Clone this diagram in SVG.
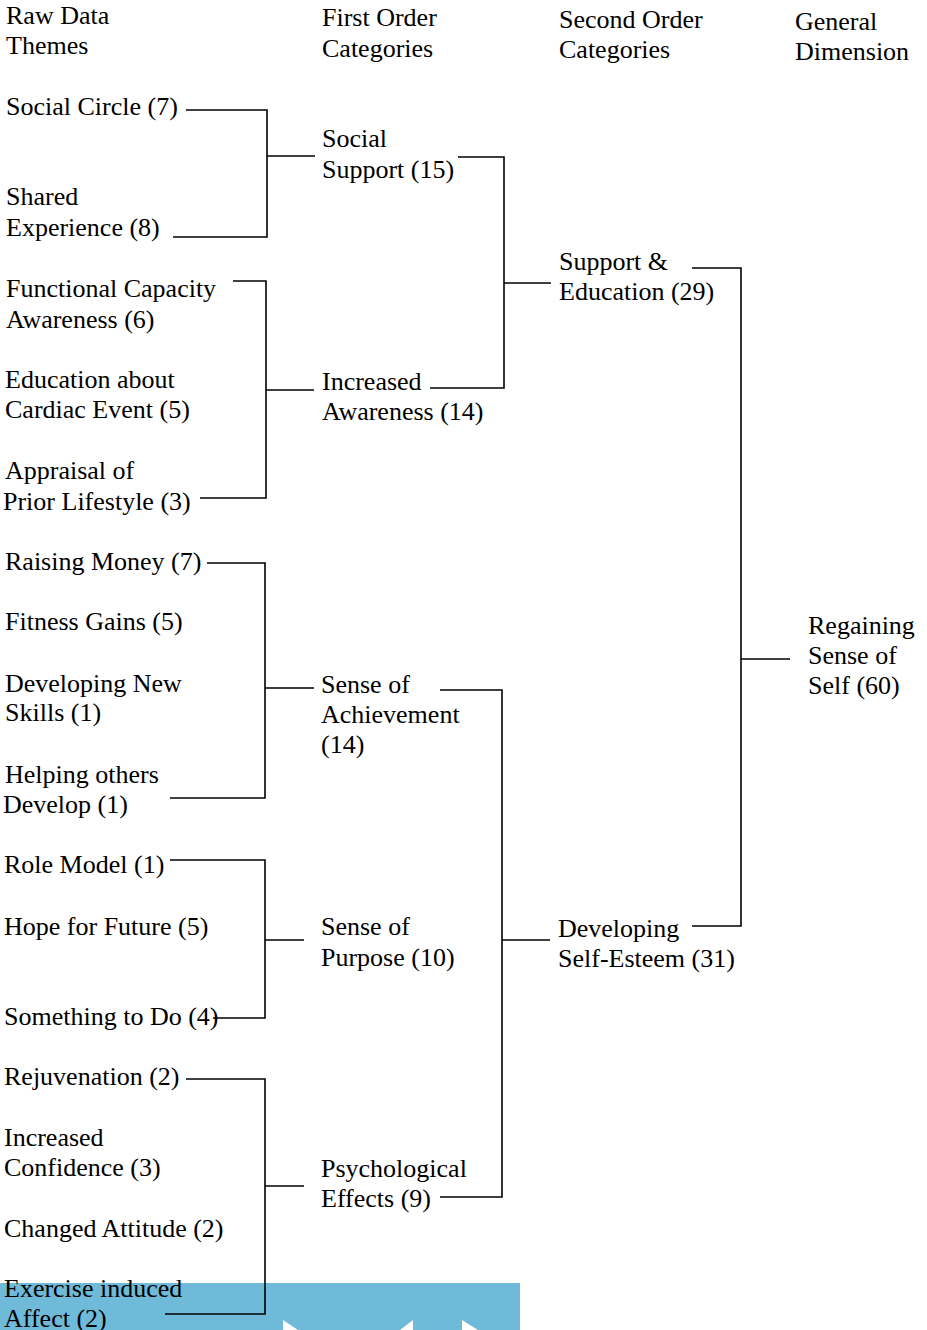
<svg xmlns="http://www.w3.org/2000/svg" width="927" height="1330" viewBox="0 0 927 1330">
<style>
text{font-family:"Liberation Serif","Times New Roman",serif;font-size:26px;fill:#000}
.c{fill:none;stroke:#000;stroke-width:1.6}
</style>
<rect width="927" height="1330" fill="#fff"/>
<g id="banner">
<rect x="0" y="1283" width="520" height="47" fill="#6fb9d9"/>
<polygon points="283,1320 298,1330 283,1330" fill="#fff"/>
<polygon points="413,1320 413,1330 400,1330" fill="#fff"/>
<polygon points="462,1320 478,1330 462,1330" fill="#fff"/>
</g>
<g id="connectors" class="c">
<path d="M186,110H267V237H173M267,156H315"/>
<path d="M458,157H504V388H430M504,283H551"/>
<path d="M233,281H266V498H200M266,390H314"/>
<path d="M692,268H741V926H692M741,659H790"/>
<path d="M207,563H265V798H170M265,688H314"/>
<path d="M440,690H502V1197H440M502,940H550"/>
<path d="M170,860H265V1018H213M265,940H304"/>
<path d="M186,1079H265V1314H165M265,1186H304"/>
</g>
<g id="headers">
<text x="6" y="24">Raw Data</text><text x="6" y="54">Themes</text>
<text x="322" y="26">First Order</text><text x="322" y="57">Categories</text>
<text x="559" y="28">Second Order</text><text x="559" y="58">Categories</text>
<text x="795" y="30">General</text><text x="795" y="60">Dimension</text>
</g>
<g id="social-circle"><text x="6" y="115">Social Circle (7)</text></g>
<g id="shared-experience"><text x="6" y="205">Shared</text><text x="6" y="236">Experience (8)</text></g>
<g id="functional-capacity"><text x="6" y="297">Functional Capacity</text><text x="6" y="328">Awareness (6)</text></g>
<g id="education-cardiac"><text x="5" y="388">Education about</text><text x="5" y="418">Cardiac Event (5)</text></g>
<g id="appraisal"><text x="5" y="479">Appraisal of</text><text x="3" y="510">Prior Lifestyle (3)</text></g>
<g id="raising-money"><text x="5" y="570">Raising Money (7)</text></g>
<g id="fitness-gains"><text x="5" y="630">Fitness Gains (5)</text></g>
<g id="new-skills"><text x="5" y="692">Developing New</text><text x="5" y="721">Skills (1)</text></g>
<g id="helping-others"><text x="5" y="783">Helping others</text><text x="3" y="813">Develop (1)</text></g>
<g id="role-model"><text x="4" y="873">Role Model (1)</text></g>
<g id="hope-future"><text x="4" y="935">Hope for Future (5)</text></g>
<g id="something-to-do"><text x="4" y="1025">Something to Do (4)</text></g>
<g id="rejuvenation"><text x="4" y="1085">Rejuvenation (2)</text></g>
<g id="increased-confidence"><text x="4" y="1146">Increased</text><text x="4" y="1176">Confidence (3)</text></g>
<g id="changed-attitude"><text x="4" y="1237">Changed Attitude (2)</text></g>
<g id="exercise-affect"><text x="4" y="1297">Exercise induced</text><text x="4" y="1327">Affect (2)</text></g>
<g id="social-support"><text x="322" y="147">Social</text><text x="322" y="178">Support (15)</text></g>
<g id="increased-awareness"><text x="322" y="390">Increased</text><text x="322" y="420">Awareness (14)</text></g>
<g id="sense-achievement"><text x="321" y="693">Sense of</text><text x="321" y="723">Achievement</text><text x="321" y="753">(14)</text></g>
<g id="sense-purpose"><text x="321" y="935">Sense of</text><text x="321" y="966">Purpose (10)</text></g>
<g id="psychological-effects"><text x="321" y="1177">Psychological</text><text x="321" y="1207">Effects (9)</text></g>
<g id="support-education"><text x="559" y="270">Support &amp;</text><text x="559" y="300">Education (29)</text></g>
<g id="self-esteem"><text x="558" y="937">Developing</text><text x="558" y="967">Self-Esteem (31)</text></g>
<g id="regaining-self"><text x="808" y="634">Regaining</text><text x="808" y="664">Sense of</text><text x="808" y="694">Self (60)</text></g>
</svg>
